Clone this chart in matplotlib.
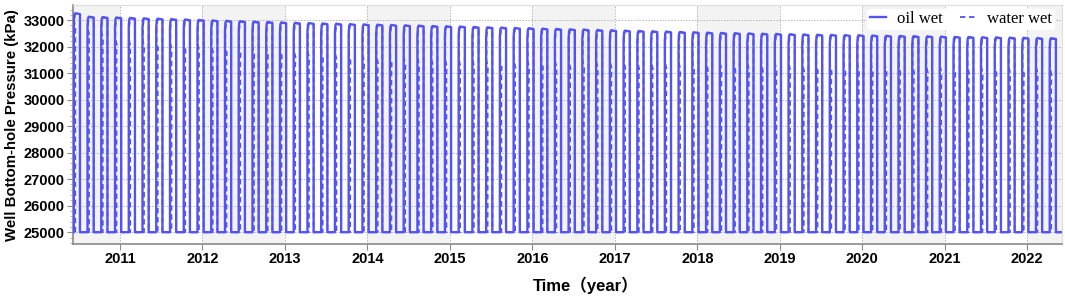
import numpy as np
import matplotlib
matplotlib.use('Agg')
import matplotlib.pyplot as plt
from matplotlib.ticker import MultipleLocator, FixedLocator

# injection cycles: first start (decimal year), cycle length, injection share of a cycle
first_start = 2010.44
cycle_len = 1.0 / 6.0
inject_len = 0.45 * cycle_len
sim_end = 2022.42
base_p = 25000

# peak bottom-hole pressure of each cycle, oil wet (kPa)
oil_peak = [33260, 33130, 33115, 33100, 33085, 33070, 33055, 33040, 33025, 33010,
            32990, 32975, 32960, 32945, 32930, 32915, 32900, 32890, 32875, 32865,
            32850, 32840, 32830, 32820, 32805, 32795, 32780, 32770, 32760, 32745,
            32730, 32720, 32705, 32695, 32680, 32670, 32655, 32645, 32630, 32620,
            32605, 32595, 32580, 32570, 32555, 32545, 32530, 32520, 32510, 32500,
            32490, 32480, 32470, 32460, 32450, 32445, 32435, 32430, 32420, 32410,
            32405, 32395, 32390, 32380, 32370, 32365, 32355, 32350, 32340, 32335,
            32325, 32320]

# water wet: pressure where the rise kinks, and the top of the kink (kPa)
water_low = [32600, 32250, 32120, 31950, 31880, 31830, 31780, 31740, 31700, 31660,
             31620, 31580, 31540, 31500, 31460, 31420, 31380, 31340, 31300, 31260,
             31220, 31190, 31160, 31130, 31100, 31080, 31060, 31040, 31020, 31010,
             31000, 30990, 30980, 30970, 30960, 30950, 30945, 30935, 30925, 30915,
             30905, 30895, 30890, 30880, 30870, 30860, 30850, 30840, 30835, 30825,
             30815, 30805, 30800, 30790, 30780, 30770, 30765, 30755, 30745, 30740,
             30730, 30720, 30715, 30705, 30700, 30690, 30685, 30675, 30670, 30660,
             30655, 30650]
water_high = [32700, 32420, 32280, 32060, 32000, 31960, 31920, 31880, 31850, 31820,
              31790, 31760, 31730, 31700, 31670, 31640, 31600, 31560, 31520, 31480,
              31440, 31410, 31380, 31350, 31320, 31300, 31280, 31260, 31240, 31230,
              31220, 31215, 31210, 31200, 31195, 31190, 31185, 31180, 31170, 31165,
              31160, 31150, 31145, 31140, 31130, 31125, 31120, 31110, 31105, 31100,
              31090, 31085, 31080, 31070, 31065, 31060, 31050, 31045, 31040, 31030,
              31025, 31020, 31010, 31005, 31000, 30990, 30985, 30980, 30970, 30965,
              30960, 30950]

years = list(range(2011, 2023))


def oil_curve():
    t, p = [], []
    for k, pk in enumerate(oil_peak):
        t0 = first_start + k * cycle_len
        t += [t0, t0, t0 + 0.006, t0 + 0.016, t0 + inject_len, t0 + inject_len]
        p += [base_p, pk - 350, pk - 60, pk, pk - 30, base_p]
    t.append(sim_end)
    p.append(base_p)
    return np.array(t), np.array(p)


def water_curve():
    # rises just inside the oil-wet pulse, kinks, then runs under the oil-wet line
    t, p = [], []
    for k, pk in enumerate(oil_peak):
        t0 = first_start + k * cycle_len
        lo, hi = water_low[k], water_high[k]
        t += [t0 + 0.018, t0 + 0.018, t0 + 0.022, t0 + 0.004, t0 + 0.004,
              t0 + 0.016, t0 + inject_len, t0 + inject_len]
        p += [base_p, lo, hi, hi + 250, pk - 350, pk - 20, pk - 40, base_p]
    t.append(sim_end)
    p.append(base_p)
    return np.array(t), np.array(p)


plt.rcParams['font.family'] = ['Liberation Sans', 'Noto Sans CJK SC', 'DejaVu Sans']

fig = plt.figure(figsize=(10.65, 2.97), dpi=100)
ax = fig.add_axes([0.0685, 0.178, 0.9285, 0.805])

# alternating year bands
x0 = 2010.43
for y0 in [x0] + [y for y in years if y % 2 == 0]:
    y1 = 2011 if y0 == x0 else y0 + 1
    ax.axvspan(y0, min(y1, sim_end), color='#f3f3f3', lw=0, zorder=0)

color = '#5353f3'
tw, pw = water_curve()
to, po = oil_curve()
ax.plot(tw, pw, color=color, lw=1.3, dashes=(3, 2), label='water wet', zorder=3)
ax.plot(to, po, color=color, lw=1.7, label='oil wet', zorder=4)

ax.set_xlim(x0, sim_end)
ax.set_ylim(24550, 33570)
ax.xaxis.set_major_locator(FixedLocator(years))
ax.set_xticklabels([str(y) for y in years])
ax.yaxis.set_major_locator(MultipleLocator(1000))
ax.yaxis.set_minor_locator(MultipleLocator(200))
ax.grid(True, which='major', color='#b5b5b5', lw=0.7, ls=(0, (1.5, 1.5)), zorder=1)

for s in ['left', 'bottom']:
    ax.spines[s].set_color('#8a8a8a')
    ax.spines[s].set_linewidth(1.2)
for s in ['top', 'right']:
    ax.spines[s].set_color('#dddddd')
    ax.spines[s].set_linewidth(0.8)
ax.tick_params(axis='both', which='major', length=4, color='#8a8a8a', labelsize=10.5, pad=2)
ax.tick_params(axis='y', which='minor', length=2, color='#aaaaaa')
for lab in ax.get_xticklabels() + ax.get_yticklabels():
    lab.set_fontweight('bold')

ax.set_ylabel('Well Bottom-hole Pressure (kPa)', fontsize=10.8, fontweight='bold', labelpad=3)
ax.set_xlabel('Time（year）', fontsize=12, fontweight='bold')
ax.xaxis.set_label_coords(0.519, -0.135)

h, l = ax.get_legend_handles_labels()
leg = ax.legend(h[::-1], l[::-1], loc='upper right', ncol=2, frameon=True,
                facecolor='white', edgecolor='none', framealpha=1,
                prop={'family': 'Liberation Serif', 'size': 12},
                handlelength=0.95, handletextpad=0.7, columnspacing=1.0,
                borderpad=0.15, borderaxespad=0.0,
                bbox_to_anchor=(0.993, 0.985))

fig.savefig('out.png', dpi=100)
